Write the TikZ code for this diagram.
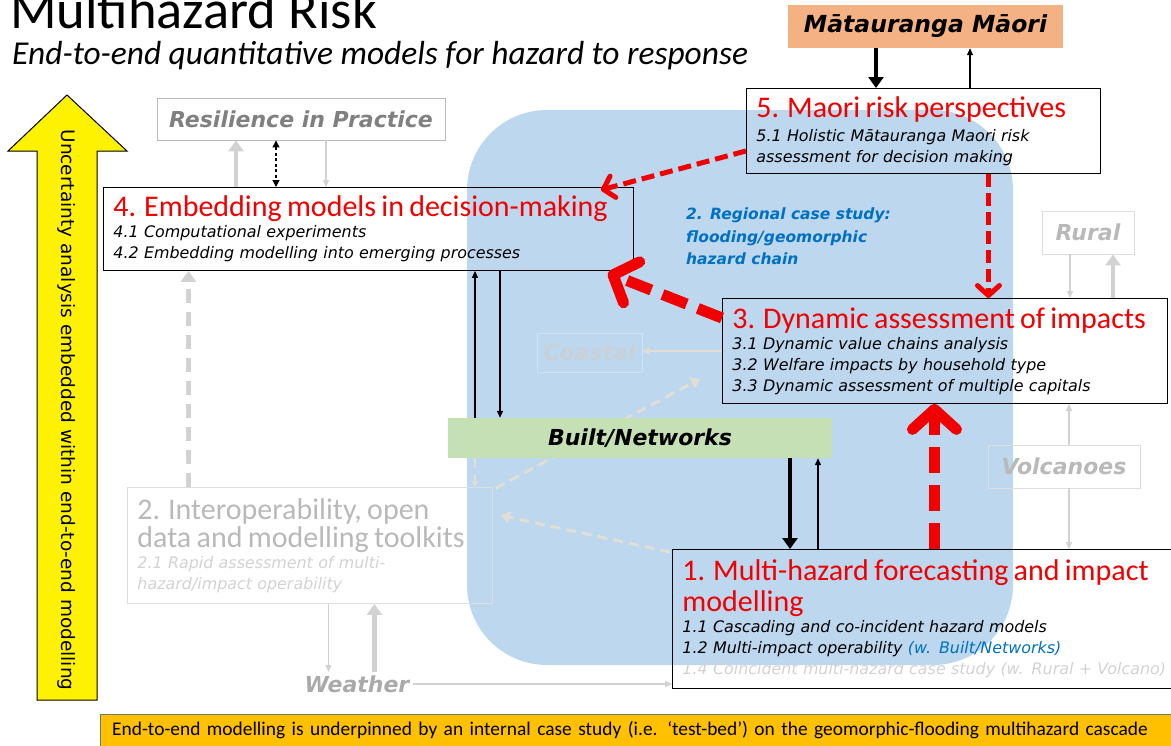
\documentclass[tikz,border=0pt]{standalone}
\usepackage{fontspec}
\setmainfont{Carlito}
\newfontfamily\verd{DejaVu Sans}
\usetikzlibrary{arrows.meta,calc,backgrounds}

\definecolor{hazred}{RGB}{240,0,0}
\definecolor{caseblue}{RGB}{189,215,238}
\definecolor{mmorange}{RGB}{244,177,131}
\definecolor{builtgreen}{RGB}{197,224,180}
\definecolor{bannerorange}{RGB}{255,192,0}
\definecolor{textblue}{RGB}{0,112,192}
\definecolor{tagray}{RGB}{128,128,128}
\definecolor{fadegray}{RGB}{185,185,185}
\definecolor{palegray}{RGB}{210,210,210}
\definecolor{paleline}{RGB}{222,222,222}
\definecolor{onblue}{RGB}{226,222,212}

\newcommand{\headfont}{\normalfont\fontsize{30}{31}\selectfont}
\newcommand{\itemfont}{\verd\itshape\fontsize{15.9}{21}\selectfont}
\newcommand{\tagfont}{\verd\bfseries\itshape}

\begin{document}
\begin{tikzpicture}[x=1pt,y=-1pt,
    box/.style={draw=black,line width=0.9pt,anchor=north west,align=left,inner xsep=10pt,inner ysep=0pt,font=\itemfont},
    tagbox/.style={draw=paleline,line width=0.9pt,font=\tagfont\fontsize{22}{26}\selectfont,text=fadegray},
    blkthin/.style={-{Triangle[length=7pt,width=6pt]},line width=1.3pt},
    blkthick/.style={-{Triangle[length=11pt,width=15pt]},line width=4.5pt},
    grythin/.style={blkthin,draw=palegray},
    grythick/.style={blkthick,draw=palegray},
    faint/.style={-{Triangle[length=9pt,width=12pt]},line width=3pt,draw=onblue,dash pattern=on 10pt off 6pt},
    redbig/.style={draw=hazred,line width=11pt,dash pattern=on 26pt off 12pt,
        -{Straight Barb[length=20pt,width=44pt,line cap=round,line join=round]}},
    redsmall/.style={draw=hazred,line width=5pt,dash pattern=on 13pt off 6pt,
        -{Straight Barb[length=10pt,width=22pt,line cap=round,line join=round]}}]
\useasboundingbox (0,0) rectangle (1171,745);

% titles
\node[anchor=base west,inner sep=0pt,font=\fontsize{54.5}{60}\selectfont] (title) at (10,28) {Multihazard Risk};
\node[anchor=base west,inner sep=0pt,font=\itshape\fontsize{33.4}{38}\selectfont] (subtitle) at (12,64) {End-to-end quantitative models for hazard to response};

% uncertainty arrow
\draw[fill=yellow,line width=1pt] (37,700) -- (37,151) -- (8,151) -- (67,95) -- (127,151) -- (97,151) -- (97,700) -- cycle;
\node[rotate=-90,font=\verd\fontsize{18.5}{22}\selectfont] (unc) at (67,410) {Uncertainty analysis embedded within end-to-end modelling};

% boxes
\node[fill=mmorange,minimum width=275pt,minimum height=43pt,font=\tagfont\fontsize{23.5}{28}\selectfont] (mm) at (925.5,26.5) {Mātauranga Māori};
\node[box,text width=334pt,minimum height=85pt] (b5) at (746,88)
  {\vspace*{3pt}{\headfont\color{hazred}5. Maori risk perspectives\par}5.1 Holistic Mātauranga Maori risk\\assessment for decision making};
\node[tagbox,draw=fadegray,text=tagray,minimum width=288pt,minimum height=42pt] (res) at (301,119) {Resilience in Practice};
\node[box,text width=510pt,minimum height=83pt] (b4) at (103,187)
  {{\headfont\color{hazred}4. Embedding models in decision-making\par}4.1 Computational experiments\\4.2 Embedding modelling into emerging processes};
\node[anchor=north west,align=left,inner sep=0pt,text=textblue,font=\tagfont\fontsize{15.5}{22.5}\selectfont] (case) at (686,208)
  {2. Regional case study:\\flooding/geomorphic\\hazard chain};
\node[tagbox,minimum width=92pt,minimum height=43pt] (rural) at (1088,232.5) {Rural};
\node[box,text width=425pt,minimum height=105pt] (b3) at (722,298)
  {{\headfont\color{hazred}3. Dynamic assessment of impacts\par}3.1 Dynamic value chains analysis\\3.2 Welfare impacts by household type\\3.3 Dynamic assessment of multiple capitals};
\node[tagbox,draw=caseblue!70!white,text={rgb,255:red,200;green,208;blue,216},minimum width=105pt,minimum height=39pt] (coast) at (589.5,352.5) {Coastal};
\node[fill=builtgreen,minimum width=384pt,minimum height=40pt,font=\tagfont\fontsize{22}{26}\selectfont] (built) at (640,438) {Built/Networks};
\node[tagbox,minimum width=152pt,minimum height=43pt] (volc) at (1064,466.5) {Volcanoes};
\node[box,draw=paleline,text width=345pt,minimum height=116pt] (b2) at (127,487)
  {{\headfont\color{fadegray}2. Interoperability, open\\[-3pt]data and modelling toolkits\par}{\color{palegray}2.1 Rapid assessment of multi-\\hazard/impact operability}};
\node[box,text width=495pt,minimum height=139pt] (b1) at (672,549)
  {{\headfont\color{hazred}1. Multi-hazard forecasting and impact\\modelling\par}1.1 Cascading and co-incident hazard models\\1.2 Multi-impact operability {\color{textblue}(w. Built/Networks)}\\{\color{palegray}1.4 Coincident multi-hazard case study (w. Rural + Volcano)}};
\node[tagbox,draw=none,text={rgb,255:red,170;green,170;blue,170},inner sep=3pt] (weather) at (357,684) {Weather};
\node[anchor=north west,fill=bannerorange,draw=black!55,align=left,text width=1048pt,inner xsep=12pt,minimum height=32pt,font=\fontsize{19.4}{21}\selectfont] (banner) at (100,714)
  {End-to-end modelling is underpinned by an internal case study (i.e. ‘test-bed’) on the geomorphic-flooding multihazard cascade};

% black links
\draw[blkthick] ([xshift=-49.5pt]mm.south) -- ([xshift=-49.5pt]mm.south |- b5.north);
\draw[blkthin] ([xshift=44.5pt]mm.south |- b5.north) -- ([xshift=44.5pt]mm.south);
\draw[blkthin,dash pattern=on 3pt off 2.5pt,{Triangle[length=7pt,width=7pt]}-{Triangle[length=7pt,width=7pt]}] ([xshift=-25pt]res.south) -- ([xshift=-25pt]res.south |- b4.north);
\draw[blkthin] ([xshift=-165pt]built.north) -- ([xshift=-165pt]built.north |- b4.south);
\draw[blkthin] ([xshift=-140pt]built.north |- b4.south) -- ([xshift=-140pt]built.north);
\draw[blkthick] ([xshift=150pt]built.south) -- ([xshift=150pt]built.south |- b1.north);
\draw[blkthin] ([xshift=178pt]built.south |- b1.north) -- ([xshift=178pt]built.south);

% grey links
\draw[grythick] ([xshift=-65pt]res.south |- b4.north) -- ([xshift=-65pt]res.south);
\draw[grythin] ([xshift=25pt]res.south) -- ([xshift=25pt]res.south |- b4.north);
\draw[grythick,dash pattern=on 14pt off 9pt] ([xshift=-121.5pt]b2.north) -- ([xshift=-121.5pt]b2.north |- b4.south);
\draw[grythin] ([xshift=18.5pt]b2.south) -- ([xshift=18.5pt]b2.south |- weather.north);
\draw[grythick] ([xshift=64.5pt]b2.south |- weather.north) -- ([xshift=64.5pt]b2.south);
\draw[grythin] (weather.east) -- (weather.east -| b1.west);
\draw[grythin] ([xshift=-18pt]rural.south) -- ([xshift=-18pt]rural.south |- b3.north);
\draw[grythick] ([xshift=25pt]rural.south |- b3.north) -- ([xshift=25pt]rural.south);
\draw[grythin] ([xshift=5pt]volc.north) -- ([xshift=5pt]volc.north |- b3.south);
\draw[grythin] ([xshift=5pt]volc.south) -- ([xshift=5pt]volc.south |- b1.north);

% red links
\draw[redsmall] ([xshift=65pt]b5.south) -- ([xshift=65pt]b5.south |- b3.north);
\draw[redsmall] ([yshift=-20pt]b5.west) -- ([xshift=-33pt,yshift=-3pt]b4.north east);
\draw[redbig] ([yshift=-20pt]b3.north west) -- ([xshift=-26pt,yshift=-2pt]b4.south east);
\draw[redbig] ([xshift=4.5pt]b1.north) -- ([xshift=4.5pt]b1.north |- b3.south);

\begin{pgfonlayer}{background}
  \fill[caseblue,rounded corners=80pt] (467,110) rectangle (1013,665);
  \draw[grythin,draw=onblue] (b3.west) -- (b3.west -| coast.east);
  \draw[faint] ([xshift=3pt,yshift=-1pt]b2.north east) -- ($(b3.south west)+(-22,-25)$);
  \draw[faint] ([xshift=-2pt,yshift=-3pt]b1.north west) -- ([xshift=8pt,yshift=30pt]b2.east);
  \draw[faint,line width=1.5pt,-{Triangle[length=6pt,width=6pt]}] ([xshift=27pt]built.south west) -- ([xshift=27pt]built.south west |- b2.north);
\end{pgfonlayer}
\end{tikzpicture}
\end{document}
